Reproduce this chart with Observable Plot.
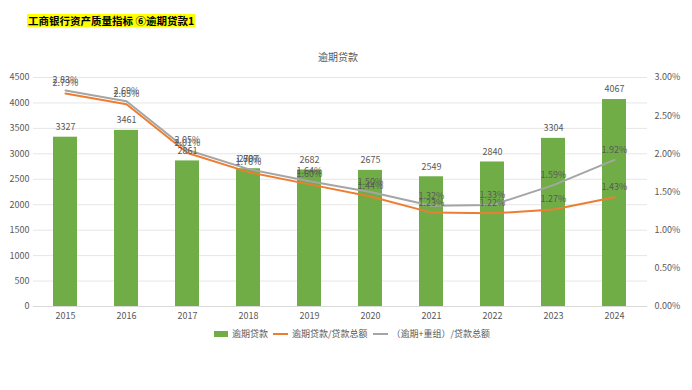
<!DOCTYPE html>
<html>
<head>
<meta charset="utf-8">
<script src="https://cdn.jsdelivr.net/npm/d3@7"></script>
<script src="https://cdn.jsdelivr.net/npm/@observablehq/plot@0.6"></script>
<style>
  body { margin: 0; background: #fff; font-family: "Noto Sans CJK SC", "DejaVu Sans", sans-serif; }
  #wrap { position: relative; width: 692px; height: 390px; overflow: hidden; }
  #title { position: absolute; left: 27px; top: 14px; font-size: 10.5px; font-weight: bold; color: #000; background: #ffff00; line-height: 13px; padding: 0 1px; }
  #ctitle { position: absolute; left: 0; width: 676px; top: 49px; text-align: center; font-size: 10px; color: #595959; }
  #chart { position: absolute; left: 0; top: 62px; }
  #legend { position: absolute; left: 214px; top: 327px; display: flex; align-items: center; font-size: 9px; color: #595959; white-space: nowrap; }
  .sw { display: inline-block; margin-right: 4px; }
  .item { display: flex; align-items: center; margin-right: 5px; }
</style>
</head>
<body>
<div id="wrap">
  <div id="title">工商银行资产质量指标 ⑥逾期贷款1</div>
  <div id="ctitle">逾期贷款</div>
  <div id="chart"></div>
  <div id="legend">
    <span class="item"><span class="sw" style="width:14px;height:6px;background:#70AD47"></span>逾期贷款</span>
    <span class="item"><span class="sw" style="width:15px;height:2px;background:#ED7D31"></span>逾期贷款/贷款总额</span>
    <span class="item"><span class="sw" style="width:15px;height:2px;background:#A5A5A5"></span>（逾期+重组）/贷款总额</span>
  </div>
</div>
<script>
const years = ["2015","2016","2017","2018","2019","2020","2021","2022","2023","2024"];
const overdue = [3327, 3461, 2861, 2707, 2682, 2675, 2549, 2840, 3304, 4067];
const overdueRatio = [2.79, 2.65, 2.01, 1.76, 1.60, 1.44, 1.23, 1.22, 1.27, 1.43];
const overdueRestructRatio = [2.83, 2.69, 2.05, 1.80, 1.64, 1.50, 1.32, 1.33, 1.59, 1.92];
const leftTicks = [0, 500, 1000, 1500, 2000, 2500, 3000, 3500, 4000, 4500];
const rightTicks = [0, 0.5, 1.0, 1.5, 2.0, 2.5, 3.0];

const K = 4500 / 3; // right axis 3.00% aligns with left 4500
const bars = years.map((y, i) => ({year: y, v: overdue[i]}));
const l1 = years.map((y, i) => ({year: y, p: overdueRatio[i], v: overdueRatio[i] * K}));
const l2 = years.map((y, i) => ({year: y, p: overdueRestructRatio[i], v: overdueRestructRatio[i] * K}));

const font = "Noto Sans CJK SC, DejaVu Sans, sans-serif";
const chart = Plot.plot({
  width: 692,
  height: 264,
  marginTop: 15,
  marginBottom: 20,
  marginLeft: 33,
  marginRight: 45,
  style: {fontFamily: font, fontSize: "9px", color: "#595959", background: "transparent"},
  x: {domain: years, paddingInner: 0.6, paddingOuter: 0.3, label: null},
  y: {domain: [0, 4500], label: null},
  marks: [
    Plot.gridY(leftTicks, {stroke: "#e6e6e6", strokeOpacity: 1}),
    Plot.barY(bars, {x: "year", y: "v", fill: "#70AD47"}),
    Plot.ruleY([0], {stroke: "#d9d9d9"}),
    Plot.axisX({tickSize: 0, tickPadding: 6, fill: "#595959", fontSize: 9}),
    Plot.axisY(leftTicks, {anchor: "left", tickSize: 0, tickPadding: 4, fill: "#595959", fontSize: 9, label: null,
      tickFormat: d => String(d)}),
    Plot.axisY(rightTicks.map(d => d * K), {anchor: "right", tickSize: 0, tickPadding: 7, fill: "#595959", fontSize: 9, label: null,
      tickFormat: d => (d / K).toFixed(2) + "%"}),
    Plot.line(l1, {x: "year", y: "v", stroke: "#ED7D31", strokeWidth: 2}),
    Plot.line(l2, {x: "year", y: "v", stroke: "#A5A5A5", strokeWidth: 2}),
    Plot.text(bars, {x: "year", y: "v", text: d => String(d.v), dy: -10, fill: "#595959", fontSize: 9}),
    Plot.text(l1, {x: "year", y: "v", text: d => d.p.toFixed(2) + "%", dy: -10, fill: "#595959", fontSize: 9}),
    Plot.text(l2, {x: "year", y: "v", text: d => d.p.toFixed(2) + "%", dy: -10, fill: "#595959", fontSize: 9})
  ]
});
document.getElementById("chart").appendChild(chart);
</script>
</body>
</html>
